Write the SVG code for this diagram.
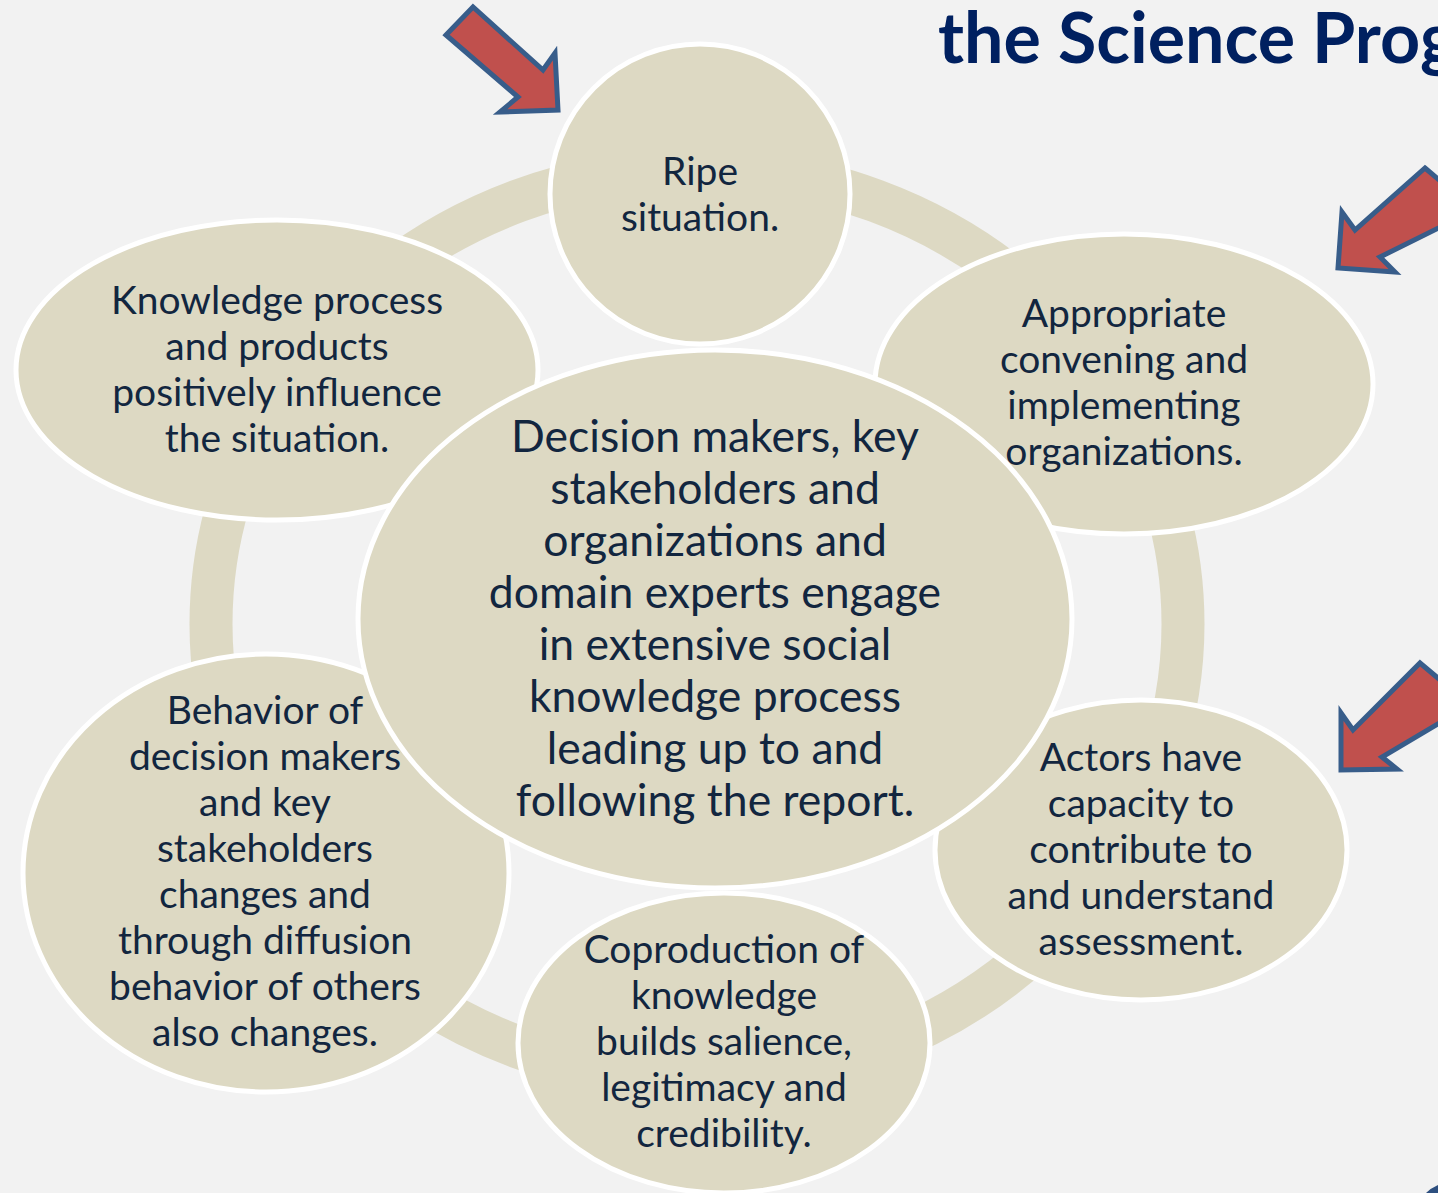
<svg xmlns="http://www.w3.org/2000/svg" width="1438" height="1193" viewBox="0 0 1438 1193">
  <style>
    .bubble { fill: #ddd9c3; stroke: #ffffff; stroke-width: 5; }
    .label { font-family: Lato, "Liberation Sans", sans-serif; font-size: 39px; fill: #12263f; text-anchor: middle; }
    .big { font-size: 44.5px; }
    .arrow { fill: #c0504d; stroke: #385d8a; stroke-width: 5; stroke-linejoin: miter; }
    .title { font-family: Lato, "Liberation Sans", sans-serif; font-weight: bold; font-size: 70px; fill: #002060; }
  </style>
  <rect width="1438" height="1193" fill="#f2f2f2"/>

  <text class="title" x="938" y="63">the Science Prog</text>

  <!-- connector ring behind the nodes -->
  <g id="connectors">
    <ellipse cx="697" cy="624" rx="486" ry="455" fill="none" stroke="#ddd9c3" stroke-width="43"/>
  </g>

  <g id="node-ripe">
    <circle class="bubble" cx="700" cy="194" r="150"/>
    <text class="label" x="700"><tspan x="700" y="185">Ripe</tspan><tspan x="700" y="231">situation.</tspan></text>
  </g>

  <g id="node-knowledge">
    <ellipse class="bubble" cx="277" cy="370" rx="261" ry="150"/>
    <text class="label"><tspan x="277" y="314">Knowledge process</tspan><tspan x="277" y="360">and products</tspan><tspan x="277" y="406">positively influence</tspan><tspan x="277" y="452">the situation.</tspan></text>
  </g>

  <g id="node-convening">
    <ellipse class="bubble" cx="1124" cy="384" rx="249" ry="150"/>
    <text class="label"><tspan x="1124" y="327">Appropriate</tspan><tspan x="1124" y="373">convening and</tspan><tspan x="1124" y="419">implementing</tspan><tspan x="1124" y="465">organizations.</tspan></text>
  </g>

  <g id="node-behavior">
    <ellipse class="bubble" cx="266" cy="873" rx="243" ry="219"/>
    <text class="label"><tspan x="265" y="724">Behavior of</tspan><tspan x="265" y="770">decision makers</tspan><tspan x="265" y="816">and key</tspan><tspan x="265" y="862">stakeholders</tspan><tspan x="265" y="908">changes and</tspan><tspan x="265" y="954">through diffusion</tspan><tspan x="265" y="1000">behavior of others</tspan><tspan x="265" y="1046">also changes.</tspan></text>
  </g>

  <g id="node-capacity">
    <ellipse class="bubble" cx="1141" cy="850" rx="206" ry="150"/>
    <text class="label"><tspan x="1141" y="771">Actors have</tspan><tspan x="1141" y="817">capacity to</tspan><tspan x="1141" y="863">contribute to</tspan><tspan x="1141" y="909">and understand</tspan><tspan x="1141" y="955">assessment.</tspan></text>
  </g>

  <g id="node-coproduction">
    <ellipse class="bubble" cx="724" cy="1043" rx="206" ry="150"/>
    <text class="label"><tspan x="724" y="963">Coproduction of</tspan><tspan x="724" y="1009">knowledge</tspan><tspan x="724" y="1055">builds salience,</tspan><tspan x="724" y="1101">legitimacy and</tspan><tspan x="724" y="1147">credibility.</tspan></text>
  </g>

  <g id="node-engage">
    <ellipse class="bubble" cx="715" cy="619" rx="357" ry="269"/>
    <text class="label big"><tspan x="715" y="452">Decision makers, key</tspan><tspan x="715" y="504">stakeholders and</tspan><tspan x="715" y="556">organizations and</tspan><tspan x="715" y="608">domain experts engage</tspan><tspan x="715" y="660">in extensive social</tspan><tspan x="715" y="712">knowledge process</tspan><tspan x="715" y="764">leading up to and</tspan><tspan x="715" y="816">following the report.</tspan></text>
  </g>

  <!-- block arrows pointing at the nodes -->
  <g id="arrow-top">
    <polygon class="arrow" points="446,35 473,7 543,70 555,53 558,110 500,112 518,97"/>
  </g>
  <g id="arrow-right-upper">
    <polygon class="arrow" points="1425,168 1475,210 1380,257 1395,272 1338,268 1342,212 1355,230"/>
  </g>
  <g id="arrow-right-lower">
    <polygon class="arrow" points="1420,663 1470,705 1382,757 1397,769 1341,770 1341,713 1353,730"/>
  </g>

  <path d="M1426 1193 Q1431 1188 1438 1185 L1438 1193 Z" fill="#2d4f7f"/>
</svg>
